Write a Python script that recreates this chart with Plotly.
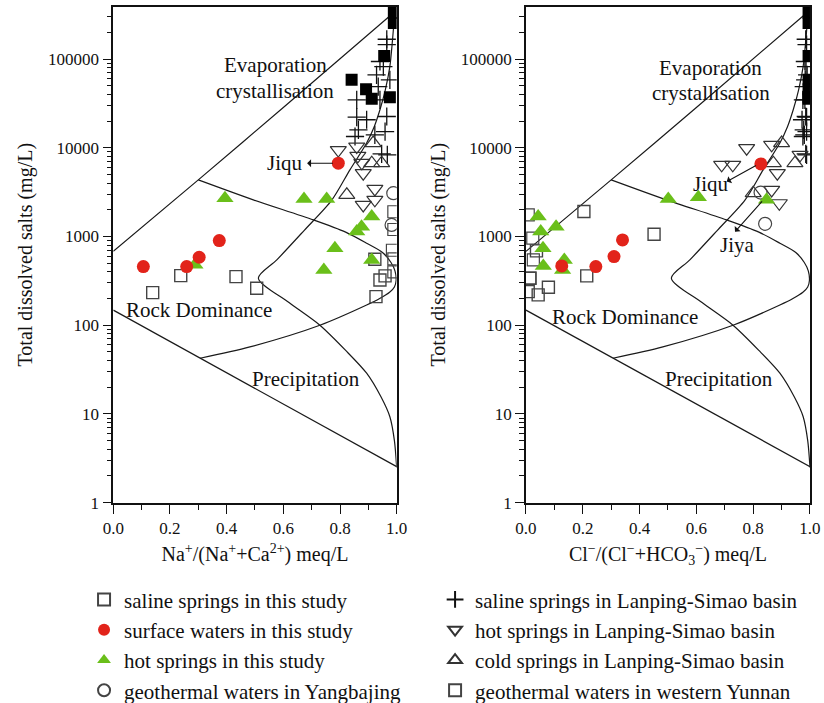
import numpy as np
import plotly.graph_objects as go

# ---------------- data ----------------
# Gibbs boundary curves (x ratio, TDS mg/L)
outer_x = [0.0, 0.30, 0.60, 0.988]
outer_y = [680, 4350, 28400, 330000]

inner_x = [0.994, 0.985, 0.976, 0.960, 0.941, 0.920, 0.894, 0.835, 0.771, 0.674, 0.577, 0.512,
           0.620, 0.729, 0.820, 0.894, 0.945, 0.976, 0.992, 1.0]
inner_y = [359000, 160000, 82800, 45000, 26800, 17000, 11300, 5640, 2570, 1175, 545, 339,
           180, 100, 52, 28.8, 15.5, 9.3, 5.0, 2.5]

lower_x = [0.0, 1.0]
lower_y = [148, 2.55]

rock_x = [0.30, 0.494, 0.706, 0.820, 0.894, 0.950, 0.980, 0.994, 0.998, 0.992, 0.975, 0.940, 0.894, 0.729, 0.482, 0.306]
rock_y = [4345, 2590, 1540, 1120, 840, 660, 510, 410, 320, 270, 235, 200, 169, 100, 57, 42.5]

# y tick labels
y_tickvals = [1, 10, 100, 1000, 10000, 100000]
y_ticktext = ["1", "10", "100", "1000", "10000", "100000"]

# ---- left panel: Na/(Na+Ca)
L_saline_x = [0.139, 0.238, 0.433, 0.506, 0.923, 0.941, 0.959, 0.927]
L_saline_y = [233, 362, 353, 261, 555, 324, 360, 210]
L_surface_x = [0.794, 0.106, 0.259, 0.303, 0.374]
L_surface_y = [6700, 458, 458, 584, 899]
L_hot_x = [0.288, 0.394, 0.673, 0.753, 0.782, 0.743, 0.859, 0.876, 0.912, 0.912]
L_hot_y = [479, 2700, 2640, 2640, 738, 420, 1140, 1290, 1680, 545]
L_yang_x = [0.988, 0.982]
L_yang_y = [3080, 1350]
L_lsaline_x = [0.965, 0.965, 0.941, 0.953, 0.929, 0.976, 0.935, 0.859, 0.941, 0.859, 0.894,
               0.965, 0.865, 0.853, 0.959, 0.923, 0.947, 0.967]
L_lsaline_y = [167000, 145000, 93800, 82200, 66400, 58300, 49000, 34700, 34700, 22100, 20700,
               22500, 15900, 13400, 15200, 14000, 8530, 8320]
L_lhot_x = [0.794, 0.859, 0.863, 0.877, 0.882, 0.923, 0.923, 0.882]
L_lhot_y = [9420, 10300, 8110, 6760, 5170, 3440, 2590, 2270]
L_lcold_x = [0.917, 0.912, 0.947, 0.824]
L_lcold_y = [11300, 6700, 6700, 2950]
L_yunnan_x = [0.99, 0.99, 0.985, 0.99, 0.99]
L_yunnan_y = [1900, 1200, 700, 560, 400]
L_black_x = [0.99, 0.99, 0.956, 0.841, 0.892, 0.912, 0.976]
L_black_y = [330000, 254000, 108000, 58300, 45800, 35600, 37200]

# ---- right panel: Cl/(Cl+HCO3)
R_saline_x = [0.204, 0.214, 0.451, 0.079, 0.043, 0.008, 0.014, 0.037]
R_saline_y = [1910, 360, 1060, 268, 220, 239, 339, 689]
R_surface_x = [0.827, 0.126, 0.246, 0.310, 0.340]
R_surface_y = [6580, 466, 458, 594, 916]
R_hot_x = [0.043, 0.106, 0.052, 0.060, 0.061, 0.135, 0.129, 0.501, 0.607, 0.847]
R_hot_y = [1680, 1290, 1140, 738, 466, 545, 420, 2640, 2770, 2590]
R_yang_x = [0.826, 0.842]
R_yang_y = [3130, 1390]
R_lsaline_x = [0.985, 0.988, 0.982, 0.986, 0.990, 0.983, 0.978, 0.975, 0.982, 0.988, 0.972,
               0.985, 0.978, 0.975, 0.988, 0.980, 0.985, 0.988]
R_lsaline_y = [167000, 145000, 93800, 82200, 66400, 58300, 49000, 34700, 34700, 22100, 20700,
               22500, 15900, 13400, 15200, 14000, 8530, 8320]
R_lhot_x = [0.777, 0.689, 0.728, 0.865, 0.885, 0.865, 0.892, 0.965]
R_lhot_y = [9900, 6420, 6420, 10800, 5170, 3350, 2370, 8320]
R_lcold_x = [0.900, 0.871, 0.947, 0.800]
R_lcold_y = [11300, 6700, 6700, 3080]
R_yunnan_x = [0.008, 0.026, 0.014, 0.024]
R_yunnan_y = [1750, 545, 339, 957]
R_black_x = [0.995, 0.995, 0.995, 0.995, 0.995, 0.995, 0.995]
R_black_y = [330000, 254000, 108000, 58300, 45800, 35600, 37200]

FONT = "Liberation Serif"
RED = "#e2231a"
GREEN = "#6abf1a"
INK = "#111"

fig = go.Figure()

def curves(xa, ya):
    for cx, cy in [(outer_x, outer_y), (inner_x, inner_y), (lower_x, lower_y), (rock_x, rock_y)]:
        fig.add_trace(go.Scatter(x=cx, y=cy, mode="lines", xaxis=xa, yaxis=ya,
                                 line=dict(color="#1a1a1a", width=1.2, shape="spline", smoothing=0.8),
                                 showlegend=False, hoverinfo="skip"))

def pts(x, y, xa, ya, name, symbol, size, color, lcolor, lw, legend, show, group):
    fig.add_trace(go.Scatter(x=x, y=y, mode="markers", xaxis=xa, yaxis=ya, name=name,
                             marker=dict(symbol=symbol, size=size, color=color,
                                         line=dict(color=lcolor, width=lw)),
                             legend=legend, showlegend=show, legendgroup=group))

curves("x", "y")
curves("x2", "y2")

panels = [
    ("x", "y", True, L_lsaline_x, L_lsaline_y, L_lhot_x, L_lhot_y, L_lcold_x, L_lcold_y,
     L_yang_x, L_yang_y, L_yunnan_x, L_yunnan_y, L_saline_x, L_saline_y, L_hot_x, L_hot_y,
     L_surface_x, L_surface_y, L_black_x, L_black_y),
    ("x2", "y2", False, R_lsaline_x, R_lsaline_y, R_lhot_x, R_lhot_y, R_lcold_x, R_lcold_y,
     R_yang_x, R_yang_y, R_yunnan_x, R_yunnan_y, R_saline_x, R_saline_y, R_hot_x, R_hot_y,
     R_surface_x, R_surface_y, R_black_x, R_black_y),
]
for (xa, ya, sh, lsx, lsy, lhx, lhy, lcx, lcy, yax, yay, yux, yuy, sx, sy, hx, hy, sux, suy, bx, by) in panels:
    pts(lsx, lsy, xa, ya, "saline springs in Lanping-Simao basin", "cross-thin-open", 13, INK, INK, 1.3, "legend2", sh, "g5")
    pts(lhx, lhy, xa, ya, "hot springs in Lanping-Simao basin", "triangle-down-open", 14, "#333", "#333", 1.2, "legend2", sh, "g6")
    pts(lcx, lcy, xa, ya, "cold springs in Lanping-Simao basin", "triangle-up-open", 14, "#333", "#333", 1.2, "legend2", sh, "g7")
    pts(yax, yay, xa, ya, "geothermal waters in Yangbajing", "circle-open", 13, "#444", "#444", 1.2, "legend", sh, "g4")
    pts(yux, yuy, xa, ya, "geothermal waters in western Yunnan", "square-open", 12, "#444", "#444", 1.2, "legend2", sh, "g8")
    pts(sx, sy, xa, ya, "saline springs in this study", "square-open", 12, "#444", "#444", 1.4, "legend", sh, "g1")
    pts(hx, hy, xa, ya, "hot springs in this study", "triangle-up", 15, GREEN, GREEN, 0, "legend", sh, "g3")
    pts(sux, suy, xa, ya, "surface waters in this study", "circle", 13, RED, RED, 0, "legend", sh, "g2")
    pts(bx, by, xa, ya, "black", "square", 12, "#000", "#000", 0, "legend", False, "g9")

order1 = ["saline springs in this study", "surface waters in this study", "hot springs in this study",
          "geothermal waters in Yangbajing"]
order2 = ["saline springs in Lanping-Simao basin", "hot springs in Lanping-Simao basin",
          "cold springs in Lanping-Simao basin", "geothermal waters in western Yunnan"]
for tr in fig.data:
    if tr.name in order1:
        tr.legendrank = order1.index(tr.name) + 1
    if tr.name in order2:
        tr.legendrank = order2.index(tr.name) + 1

axis_common = dict(showline=True, linecolor=INK, linewidth=1.6, mirror=True,
                   ticks="outside", ticklen=9, tickwidth=1.3, tickcolor=INK,
                   showgrid=False, zeroline=False, automargin=False,
                   tickfont=dict(family=FONT, size=17, color=INK))
xcommon = dict(axis_common, range=[0, 1], dtick=0.2, tick0=0, tickformat=".1f",
               minor=dict(dtick=0.1, tick0=0, ticks="outside", ticklen=5, tickwidth=1.3, tickcolor=INK))
ycommon = dict(axis_common, type="log", range=[0, 5.59],
               tickmode="array", tickvals=y_tickvals, ticktext=y_ticktext,
               minor=dict(dtick="D1", ticks="outside", ticklen=5, tickwidth=1.1, tickcolor=INK),
               title=dict(text="Total dissolved salts (mg/L)", font=dict(family=FONT, size=20, color=INK),
                          standoff=10))

fig.update_layout(
    width=824, height=703, margin=dict(l=0, r=0, t=0, b=0, autoexpand=False),
    paper_bgcolor="white", plot_bgcolor="white",
    font=dict(family=FONT, size=17, color=INK),
    xaxis=dict(xcommon, domain=[0.1375, 0.4814], anchor="y",
               title=dict(text="Na<sup>+</sup>/(Na<sup>+</sup>+Ca<sup>2+</sup>) meq/L",
                          font=dict(family=FONT, size=20, color=INK), standoff=10)),
    yaxis=dict(ycommon, domain=[0.2849, 0.9905], anchor="x"),
    xaxis2=dict(xcommon, domain=[0.6383, 0.983], anchor="y2",
                title=dict(text="Cl<sup>−</sup>/(Cl<sup>−</sup>+HCO<sub>3</sub><sup>−</sup>) meq/L",
                           font=dict(family=FONT, size=20, color=INK), standoff=10)),
    yaxis2=dict(ycommon, domain=[0.2849, 0.9905], anchor="x2"),
    legend=dict(x=0.102, y=0.176, xanchor="left", yanchor="top", bgcolor="rgba(0,0,0,0)",
                font=dict(family=FONT, size=21, color=INK), tracegroupgap=0, itemsizing="constant"),
    legend2=dict(x=0.528, y=0.176, xanchor="left", yanchor="top", bgcolor="rgba(0,0,0,0)",
                 font=dict(family=FONT, size=21, color=INK), tracegroupgap=0, itemsizing="constant"),
)

def ann(xref, yref, x, y, text, size=21):
    fig.add_annotation(xref=xref, yref=yref, x=x, y=np.log10(y), text=text, showarrow=False,
                       font=dict(family=FONT, size=size, color=INK))

def arrow(xref, yref, x0, y0, x1, y1):
    fig.add_annotation(xref=xref, yref=yref, axref=xref, ayref=yref,
                       x=x1, y=np.log10(y1), ax=x0, ay=np.log10(y0), text="", showarrow=True,
                       arrowhead=1, arrowsize=1.2, arrowwidth=1.1, arrowcolor=INK)

# left annotations
ann("x", "y", 0.571, 10 ** 4.935, "Evaporation")
ann("x", "y", 0.571, 10 ** 4.641, "crystallisation")
ann("x", "y", 0.606, 10 ** 3.826, "Jiqu")
ann("x", "y", 0.303, 10 ** 2.172, "Rock Dominance")
ann("x", "y", 0.679, 10 ** 1.395, "Precipitation")
arrow("x", "y", 0.780, 6700, 0.684, 6700)
# right annotations
ann("x2", "y2", 0.651, 10 ** 4.897, "Evaporation")
ann("x2", "y2", 0.651, 10 ** 4.616, "crystallisation")
ann("x2", "y2", 0.651, 10 ** 3.590, "Jiqu")
ann("x2", "y2", 0.745, 10 ** 2.905, "Jiya")
ann("x2", "y2", 0.349, 10 ** 2.097, "Rock Dominance")
ann("x2", "y2", 0.681, 10 ** 1.395, "Precipitation")
arrow("x2", "y2", 0.815, 10 ** 3.81, 0.707, 10 ** 3.619)
arrow("x2", "y2", 0.836, 10 ** 3.413, 0.736, 10 ** 3.055)

fig.write_html("out.html")
